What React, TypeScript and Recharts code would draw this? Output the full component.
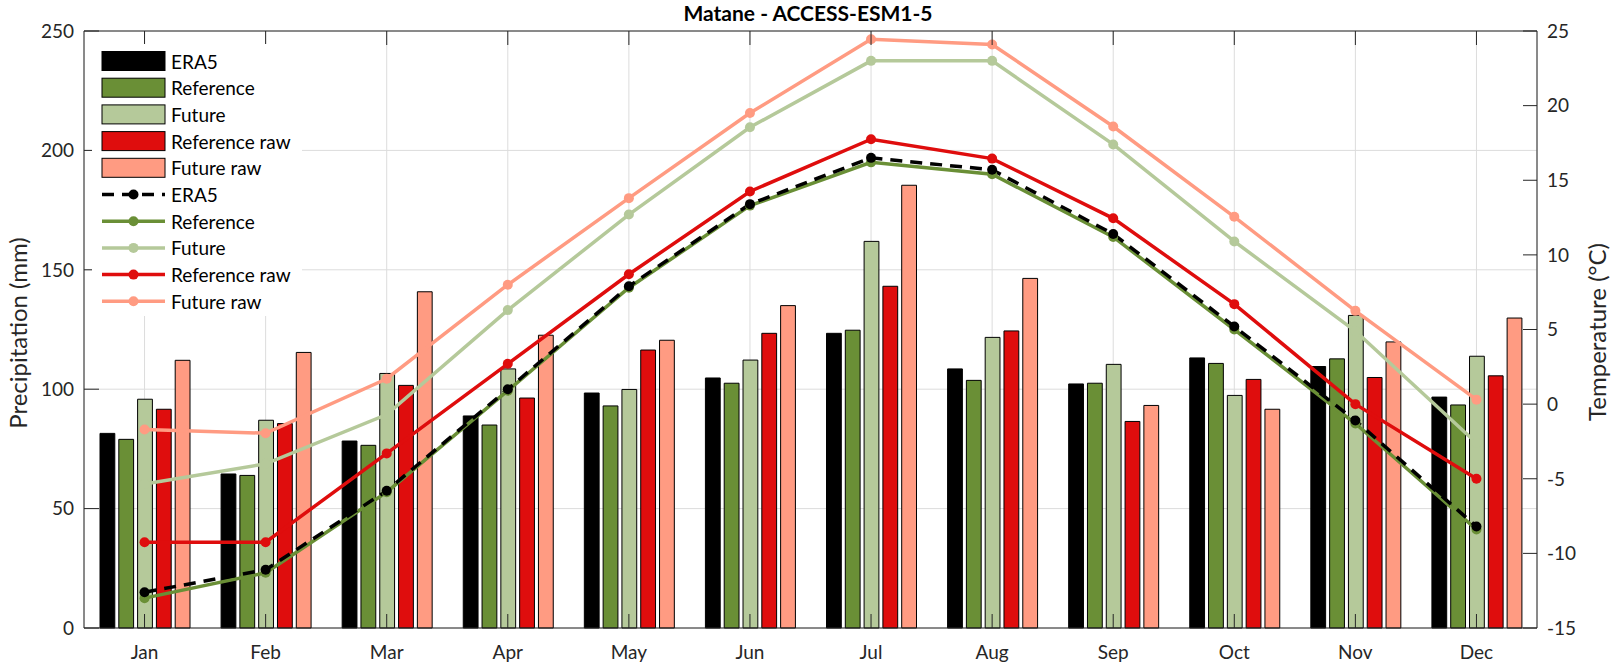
import React from "react";
import {
  Bar,
  CartesianGrid,
  ComposedChart,
  Line,
  ReferenceLine,
  XAxis,
  YAxis,
} from "recharts";

const months = ["Jan", "Feb", "Mar", "Apr", "May", "Jun", "Jul", "Aug", "Sep", "Oct", "Nov", "Dec"];

// precipitation (mm), left axis
const precipEra5 = [81.5, 64.5, 78.3, 88.8, 98.4, 104.7, 123.4, 108.5, 102.2, 113.1, 109.5, 96.7];
const precipRef = [79.0, 63.9, 76.5, 85.0, 93.0, 102.5, 124.7, 103.7, 102.5, 110.8, 112.7, 93.4];
const precipFut = [95.8, 87.0, 106.6, 108.5, 99.9, 112.2, 161.9, 121.7, 110.4, 97.4, 130.9, 113.8];
const precipRefRaw = [91.6, 85.6, 101.6, 96.3, 116.4, 123.4, 143.1, 124.4, 86.5, 104.1, 104.9, 105.6];
const precipFutRaw = [112.1, 115.4, 140.8, 122.6, 120.5, 135.0, 185.4, 146.4, 93.2, 91.6, 119.8, 129.8];

// temperature (°C), right axis
const tempEra5 = [-12.6, -11.1, -5.8, 1.0, 7.9, 13.4, 16.5, 15.7, 11.4, 5.2, -1.1, -8.2];
const tempRef = [-13.0, -11.3, -5.9, 0.9, 7.8, 13.3, 16.2, 15.4, 11.2, 5.0, -1.3, -8.4];
const tempFut = [-5.35, -4.0, -0.7, 6.3, 12.7, 18.55, 23.0, 23.0, 17.4, 10.9, 4.9, -2.6];
const tempRefRaw = [-9.25, -9.25, -3.3, 2.7, 8.7, 14.25, 17.75, 16.45, 12.45, 6.7, 0.0, -5.0];
const tempFutRaw = [-1.7, -1.95, 1.7, 8.0, 13.8, 19.5, 24.45, 24.1, 18.6, 12.55, 6.25, 0.3];

const precipTicks = [0, 50, 100, 150, 200, 250];
const tempTicks = [-15, -10, -5, 0, 5, 10, 15, 20, 25];

const rows = months.map((m, i) => ({
  month: m,
  pEra5: precipEra5[i],
  pRef: precipRef[i],
  pFut: precipFut[i],
  pRefRaw: precipRefRaw[i],
  pFutRaw: precipFutRaw[i],
  tEra5: tempEra5[i],
  tRef: tempRef[i],
  tFut: tempFut[i],
  tRefRaw: tempRefRaw[i],
  tFutRaw: tempFutRaw[i],
}));

const BLACK = "#000000";
const GREEN = "#6a8f36";
const LIGHT = "#b5c99a";
const RED = "#df0d0d";
const SALMON = "#ff9b82";
const AXIS = "#262626";
const FONT = "Lato, 'Open Sans', sans-serif";

const W = 1616;
const H = 664;
const PLOT_TOP = 31;

const MonthTick = (props: any) => {
  const { x, y, payload } = props;
  return (
    <g>
      <line x1={x} x2={x} y1={y} y2={y - 14} stroke={AXIS} />
      <line x1={x} x2={x} y1={PLOT_TOP} y2={PLOT_TOP + 14} stroke={AXIS} />
      <text x={x} y={y + 31} textAnchor="middle" fontSize={19} fill={AXIS} fontFamily={FONT}>
        {payload.value}
      </text>
    </g>
  );
};

const LeftTick = (props: any) => {
  const { x, y, payload } = props;
  return (
    <g>
      <line x1={x} x2={x + 15} y1={y} y2={y} stroke={AXIS} />
      <text x={x - 10} y={y} dy="0.36em" textAnchor="end" fontSize={19} fill={AXIS} fontFamily={FONT}>
        {payload.value}
      </text>
    </g>
  );
};

const RightTick = (props: any) => {
  const { x, y, payload } = props;
  return (
    <g>
      <line x1={x - 14} x2={x} y1={y} y2={y} stroke={AXIS} />
      <text x={x + 10} y={y} dy="0.36em" textAnchor="start" fontSize={19} fill={AXIS} fontFamily={FONT}>
        {payload.value}
      </text>
    </g>
  );
};

const legendItems = [
  { label: "ERA5", color: BLACK, kind: "bar" },
  { label: "Reference", color: GREEN, kind: "bar" },
  { label: "Future", color: LIGHT, kind: "bar" },
  { label: "Reference raw", color: RED, kind: "bar" },
  { label: "Future raw", color: SALMON, kind: "bar" },
  { label: "ERA5", color: BLACK, kind: "dash" },
  { label: "Reference", color: GREEN, kind: "line" },
  { label: "Future", color: LIGHT, kind: "line" },
  { label: "Reference raw", color: RED, kind: "line" },
  { label: "Future raw", color: SALMON, kind: "line" },
];

function Overlay() {
  return (
    <svg
      width={W}
      height={H}
      style={{ position: "absolute", left: 0, top: 0, pointerEvents: "none" }}
    >
      <text x={808} y={21} textAnchor="middle" fontSize={21} fontWeight="bold" fill="#000" fontFamily={FONT}>
        Matane - ACCESS-ESM1-5
      </text>
      <text
        transform="translate(17,333) rotate(-90)"
        textAnchor="middle"
        dominantBaseline="central"
        fontSize={24}
        fill={AXIS}
        fontFamily={FONT}
      >
        Precipitation (mm)
      </text>
      <text
        transform="translate(1596,332) rotate(-90)"
        textAnchor="middle"
        dominantBaseline="central"
        fontSize={24}
        fill={AXIS}
        fontFamily={FONT}
      >
        Temperature (°C)
      </text>
      <rect x={92} y={44} width={210} height={272} fill="#fff" />
      {legendItems.map((it, i) => {
        const cy = 61 + i * 26.7;
        return (
          <g key={i}>
            {it.kind === "bar" ? (
              <rect x={102} y={cy - 9.5} width={63} height={19} fill={it.color} stroke="#000" strokeWidth={1} />
            ) : (
              <>
                <line
                  x1={102}
                  x2={165}
                  y1={cy}
                  y2={cy}
                  stroke={it.color}
                  strokeWidth={3.5}
                  strokeDasharray={it.kind === "dash" ? "12 8" : undefined}
                />
                <circle cx={133.5} cy={cy} r={5} fill={it.color} />
              </>
            )}
            <text x={171} y={cy} dominantBaseline="central" fontSize={19} fill="#000" fontFamily={FONT}>
              {it.label}
            </text>
          </g>
        );
      })}
    </svg>
  );
}

export default function App() {
  const dot = (c: string) => ({ r: 5, fill: c, stroke: c, strokeWidth: 0 });
  return (
    <div style={{ position: "absolute", left: 0, top: 0, width: W, height: H, background: "#fff", fontFamily: FONT }}>
      <ComposedChart
        width={W}
        height={H}
        data={rows}
        margin={{ top: PLOT_TOP, right: 0, bottom: 0, left: 0 }}
        barSize={14.8}
        barGap={4}
      >
        <CartesianGrid yAxisId="p" stroke="#dcdcdc" strokeWidth={1} />
        <XAxis
          dataKey="month"
          height={36}
          tickSize={0}
          tickMargin={0}
          tickLine={false}
          interval={0}
          axisLine={{ stroke: AXIS }}
          tick={<MonthTick />}
        />
        <YAxis
          yAxisId="p"
          width={84}
          domain={[0, 250]}
          ticks={precipTicks}
          interval={0}
          tickSize={0}
          tickMargin={0}
          tickLine={false}
          axisLine={{ stroke: AXIS }}
          tick={<LeftTick />}
        />
        <YAxis
          yAxisId="t"
          orientation="right"
          width={79}
          domain={[-15, 25]}
          ticks={tempTicks}
          interval={0}
          tickSize={0}
          tickMargin={0}
          tickLine={false}
          axisLine={{ stroke: AXIS }}
          tick={<RightTick />}
        />
        <ReferenceLine yAxisId="p" y={250} stroke={AXIS} />
        <Bar yAxisId="p" dataKey="pEra5" fill={BLACK} stroke="#000" strokeWidth={1} isAnimationActive={false} />
        <Bar yAxisId="p" dataKey="pRef" fill={GREEN} stroke="#000" strokeWidth={1} isAnimationActive={false} />
        <Bar yAxisId="p" dataKey="pFut" fill={LIGHT} stroke="#000" strokeWidth={1} isAnimationActive={false} />
        <Bar yAxisId="p" dataKey="pRefRaw" fill={RED} stroke="#000" strokeWidth={1} isAnimationActive={false} />
        <Bar yAxisId="p" dataKey="pFutRaw" fill={SALMON} stroke="#000" strokeWidth={1} isAnimationActive={false} />
        <Line yAxisId="t" type="linear" dataKey="tFutRaw" stroke={SALMON} strokeWidth={3.5} dot={dot(SALMON)} activeDot={false} isAnimationActive={false} />
        <Line yAxisId="t" type="linear" dataKey="tFut" stroke={LIGHT} strokeWidth={3.5} dot={dot(LIGHT)} activeDot={false} isAnimationActive={false} />
        <Line yAxisId="t" type="linear" dataKey="tRefRaw" stroke={RED} strokeWidth={3.5} dot={dot(RED)} activeDot={false} isAnimationActive={false} />
        <Line yAxisId="t" type="linear" dataKey="tRef" stroke={GREEN} strokeWidth={3.5} dot={dot(GREEN)} activeDot={false} isAnimationActive={false} />
        <Line yAxisId="t" type="linear" dataKey="tEra5" stroke={BLACK} strokeWidth={3.5} strokeDasharray="12 8" dot={dot(BLACK)} activeDot={false} isAnimationActive={false} />
      </ComposedChart>
      <Overlay />
    </div>
  );
}
